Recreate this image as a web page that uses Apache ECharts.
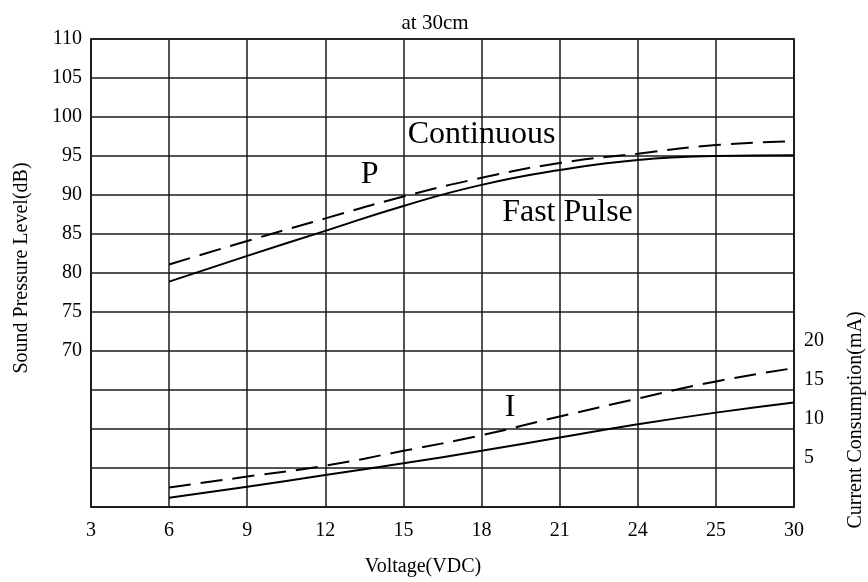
<!DOCTYPE html>
<html>
<head>
<meta charset="utf-8">
<script src="https://cdn.jsdelivr.net/npm/echarts@6/dist/echarts.min.js"></script>
<style>html,body{margin:0;padding:0;background:#fff;}#c{width:868px;height:582px;}</style>
</head>
<body>
<div id="c"></div>
<script>
// x positions on the voltage axis (evenly spaced ticks; the 8th tick is labelled "25")
const voltage = [6, 9, 12, 15, 18, 21, 24, 27, 30];
const xTickValues = [3, 6, 9, 12, 15, 18, 21, 24, 27, 30];
const xTickLabels = ['3', '6', '9', '12', '15', '18', '21', '24', '25', '30'];
// Sound pressure level (dB) - left axis
const splContinuous = [81.1, 84.1, 87.0, 89.8, 92.2, 94.1, 95.3, 96.4, 96.9];
const splFastPulse  = [78.9, 82.2, 85.4, 88.6, 91.3, 93.2, 94.5, 95.0, 95.1];
// Current consumption (mA) - right axis
const curContinuous = [2.5, 3.9, 5.3, 7.2, 9.2, 11.6, 13.9, 16.1, 17.8];
const curFastPulse  = [1.2, 2.6, 4.1, 5.6, 7.2, 8.9, 10.6, 12.1, 13.4];
const leftTickLabels = [70, 75, 80, 85, 90, 95, 100, 105, 110];
const rightTickLabels = [5, 10, 15, 20];
// annotations: [text, x (V), y (dB on left axis)]
const annotations = [
  ['Continuous', 18.0, 97.8],
  ['P', 13.7, 92.6],
  ['Fast Pulse', 21.3, 87.7],
  ['I', 19.1, 62.7]
];

const FONT = 'Liberation Serif, Times New Roman, serif';
const chart = echarts.init(document.getElementById('c'), null, {renderer: 'canvas'});

function pairs(xs, ys) { return xs.map((x, i) => [x, ys[i]]); }

const lineBase = {type: 'line', smooth: 0.5, symbol: 'none', silent: true};

chart.setOption({
  animation: false,
  backgroundColor: '#fff',
  title: {
    text: 'at 30cm', left: 430, top: 8, textAlign: 'center',
    textStyle: {fontFamily: FONT, fontSize: 21, fontWeight: 'normal', color: '#000'}
  },
  grid: {
    left: 91, right: 74, top: 39, bottom: 75,
    show: true, borderColor: '#1a1a1a', borderWidth: 1.5,
    outerBoundsMode: 'none'
  },
  xAxis: {
    type: 'value', min: 3, max: 30, interval: 3,
    axisLine: {show: true, lineStyle: {color: '#1a1a1a', width: 1.5}},
    axisTick: {show: false},
    splitLine: {show: true, lineStyle: {color: '#1a1a1a', width: 1.5}},
    axisLabel: {
      margin: 14, fontFamily: FONT, fontSize: 20, color: '#000',
      formatter: v => { const i = xTickValues.indexOf(v); return i >= 0 ? xTickLabels[i] : ''; }
    }
  },
  yAxis: [
    {
      type: 'value', min: 50, max: 110, interval: 5,
      axisLine: {show: true, lineStyle: {color: '#1a1a1a', width: 1.5}},
      axisTick: {show: false},
      splitLine: {show: true, lineStyle: {color: '#1a1a1a', width: 1.5}},
      axisLabel: {
        margin: 9, fontFamily: FONT, fontSize: 20, color: '#000',
        formatter: v => leftTickLabels.indexOf(v) >= 0 ? String(v) : ''
      }
    },
    {
      type: 'value', min: 0, max: 60, interval: 5, position: 'right',
      axisLine: {show: true, lineStyle: {color: '#1a1a1a', width: 1.5}},
      axisTick: {show: false},
      splitLine: {show: false},
      axisLabel: {
        margin: 10, fontFamily: FONT, fontSize: 20, color: '#000', verticalAlign: 'bottom',
        formatter: v => rightTickLabels.indexOf(v) >= 0 ? String(v) : ''
      }
    }
  ],
  graphic: [
    {type: 'text', x: 22, y: 268, rotation: Math.PI / 2,
     style: {text: 'Sound Pressure Level(dB)', font: '20px ' + FONT, fill: '#000', align: 'center', verticalAlign: 'middle'}},
    {type: 'text', x: 856, y: 420, rotation: Math.PI / 2,
     style: {text: 'Current Consumption(mA)', font: '20px ' + FONT, fill: '#000', align: 'center', verticalAlign: 'middle'}},
    {type: 'text', x: 423, y: 567,
     style: {text: 'Voltage(VDC)', font: '20px ' + FONT, fill: '#000', align: 'center', verticalAlign: 'middle'}}
  ],
  series: [
    Object.assign({}, lineBase, {name: 'P Continuous', yAxisIndex: 0, data: pairs(voltage, splContinuous),
      lineStyle: {color: '#000', width: 2, type: [22, 10]}}),
    Object.assign({}, lineBase, {name: 'P Fast Pulse', yAxisIndex: 0, data: pairs(voltage, splFastPulse),
      lineStyle: {color: '#000', width: 2}}),
    Object.assign({}, lineBase, {name: 'I Continuous', yAxisIndex: 1, data: pairs(voltage, curContinuous),
      lineStyle: {color: '#000', width: 2, type: [22, 10]}}),
    Object.assign({}, lineBase, {name: 'I Fast Pulse', yAxisIndex: 1, data: pairs(voltage, curFastPulse),
      lineStyle: {color: '#000', width: 2}}),
    {
      type: 'scatter', yAxisIndex: 0, silent: true, symbolSize: 0,
      itemStyle: {opacity: 1},
      data: annotations.map(a => ({value: [a[1], a[2]], name: a[0]})),
      label: {show: true, position: 'inside', formatter: p => p.name,
        fontFamily: FONT, fontSize: 32, color: '#000', opacity: 1}
    }
  ]
});
</script>
</body>
</html>
